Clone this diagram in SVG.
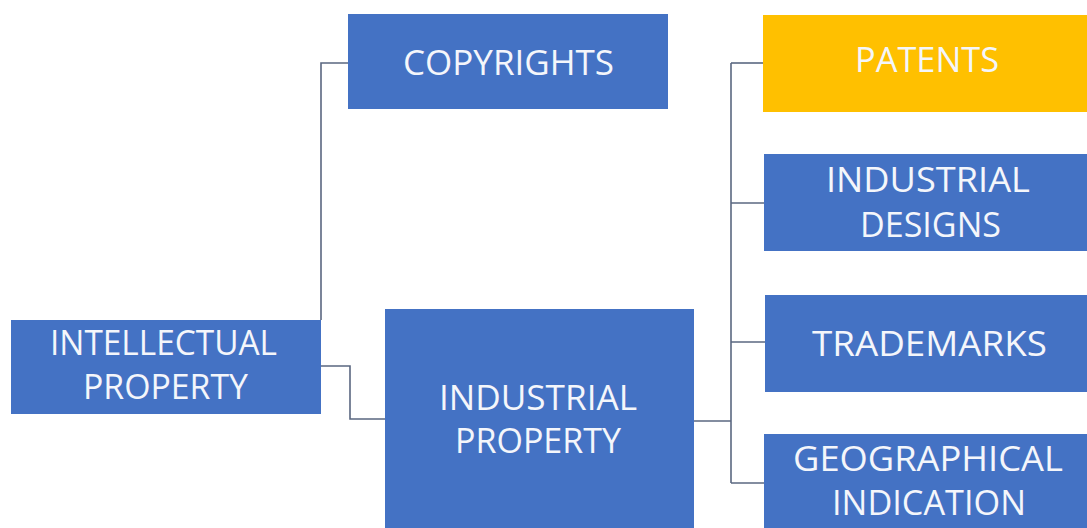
<svg xmlns="http://www.w3.org/2000/svg" width="1087" height="528" viewBox="0 0 1087 528">
  <style>
    .box { fill: #4472c4; }
    .gold { fill: #ffc000; }
    .lbl { font-family: "Open Sans", "Liberation Sans", sans-serif; font-size: 34px; fill: #f4f6fb; }
    .wire { fill: none; stroke: #5a6780; stroke-width: 1.6; }
  </style>
  <rect width="1087" height="528" fill="#ffffff"/>

  <!-- connectors -->
  <g id="connectors" class="wire">
    <path d="M321,320 V63 H348"/>
    <path d="M321,366 H350 V419 H385"/>
    <path d="M694,421 H731"/>
    <path d="M731,63 V483"/>
    <path d="M731,63 H763"/>
    <path d="M731,203 H764"/>
    <path d="M731,342 H765"/>
    <path d="M731,483 H764"/>
  </g>

  <g id="intellectual-property">
    <rect class="box" x="11" y="320" width="310" height="94"/>
    <text class="lbl" x="50" y="355" textLength="227" lengthAdjust="spacingAndGlyphs">INTELLECTUAL</text>
    <text class="lbl" x="83" y="399" textLength="165" lengthAdjust="spacingAndGlyphs">PROPERTY</text>
  </g>

  <g id="copyrights">
    <rect class="box" x="348" y="14" width="320" height="95"/>
    <text class="lbl" x="403" y="75" textLength="211" lengthAdjust="spacingAndGlyphs">COPYRIGHTS</text>
  </g>

  <g id="industrial-property">
    <rect class="box" x="385" y="309" width="309" height="230"/>
    <text class="lbl" x="439" y="410" textLength="198" lengthAdjust="spacingAndGlyphs">INDUSTRIAL</text>
    <text class="lbl" x="455" y="453" textLength="166" lengthAdjust="spacingAndGlyphs">PROPERTY</text>
  </g>

  <g id="patents">
    <rect class="gold" x="763" y="15" width="330" height="97"/>
    <text class="lbl" x="855" y="72" textLength="144" lengthAdjust="spacingAndGlyphs">PATENTS</text>
  </g>

  <g id="industrial-designs">
    <rect class="box" x="764" y="154" width="330" height="97"/>
    <text class="lbl" x="826" y="192" textLength="204" lengthAdjust="spacingAndGlyphs">INDUSTRIAL</text>
    <text class="lbl" x="860" y="237" textLength="141" lengthAdjust="spacingAndGlyphs">DESIGNS</text>
  </g>

  <g id="trademarks">
    <rect class="box" x="765" y="295" width="330" height="97"/>
    <text class="lbl" x="812" y="356" textLength="235" lengthAdjust="spacingAndGlyphs">TRADEMARKS</text>
  </g>

  <g id="geographical-indication">
    <rect class="box" x="764" y="434" width="330" height="100"/>
    <text class="lbl" x="793" y="471" textLength="270" lengthAdjust="spacingAndGlyphs">GEOGRAPHICAL</text>
    <text class="lbl" x="832" y="515" textLength="194" lengthAdjust="spacingAndGlyphs">INDICATION</text>
  </g>
</svg>
